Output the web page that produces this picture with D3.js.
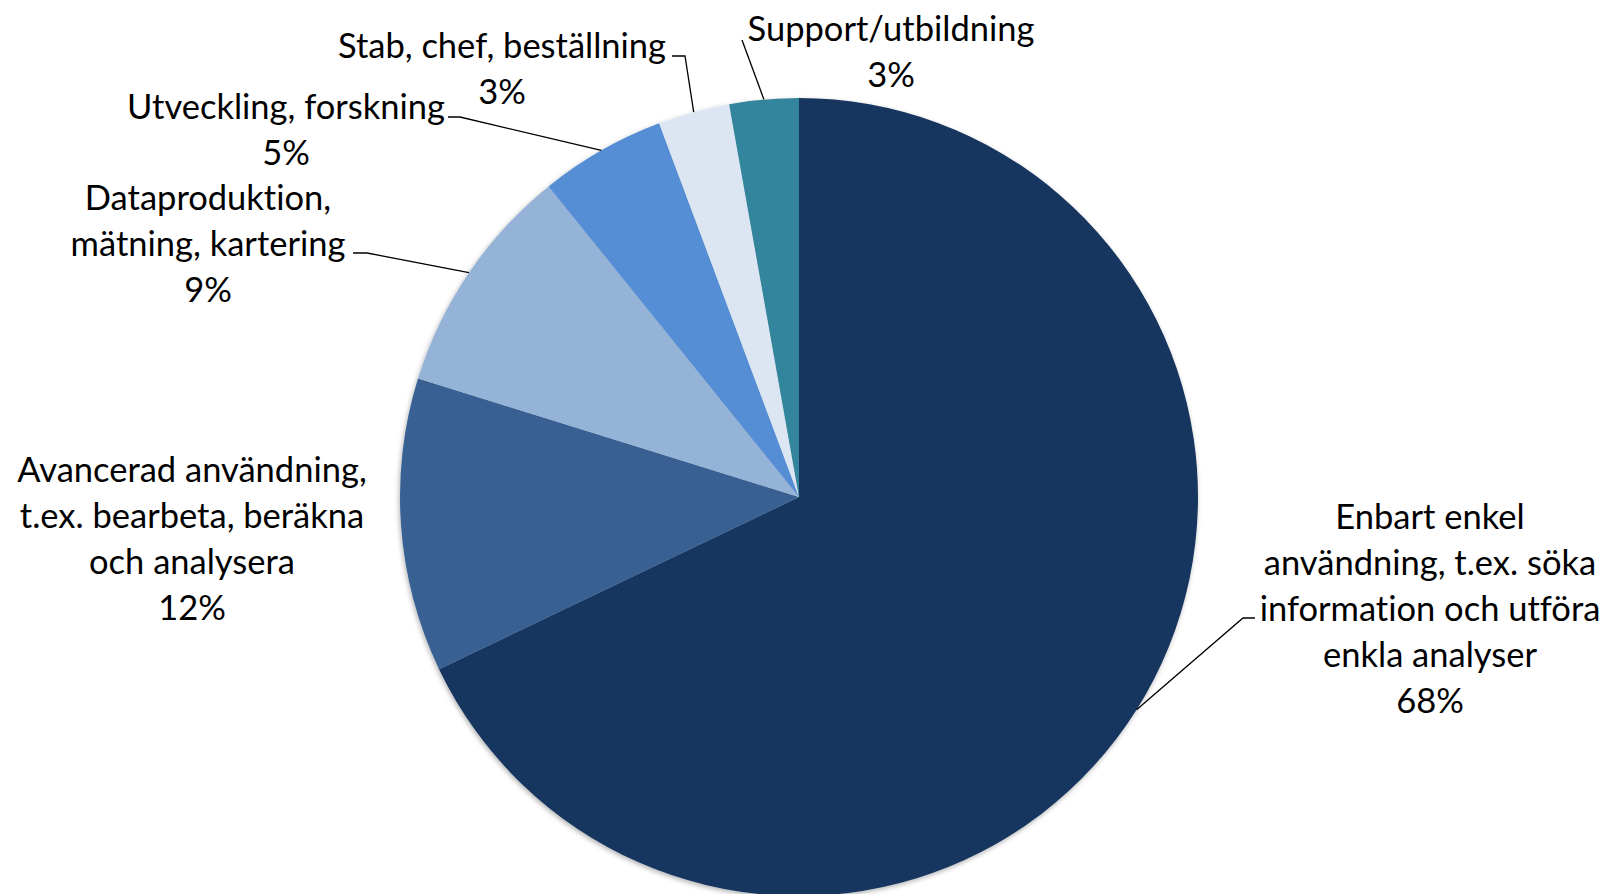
<!DOCTYPE html>
<html><head><meta charset="utf-8">
<script src="https://cdn.jsdelivr.net/npm/d3@7"></script>
<style>
body{margin:0;background:#fff}
svg{display:block}
text{font-family:Lato,"Open Sans",sans-serif;fill:#000;font-variant-ligatures:none;font-feature-settings:"liga" 0}
</style></head><body>
<svg id="c" width="1608" height="894"></svg>
<script>
// ---- data ----
const categories = [
  "Enbart enkel\nanvändning, t.ex. söka\ninformation och utföra\nenkla analyser",
  "Avancerad användning,\nt.ex. bearbeta, beräkna\noch analysera",
  "Dataproduktion,\nmätning, kartering",
  "Utveckling, forskning",
  "Stab, chef, beställning",
  "Support/utbildning"
];
const values = [67.9, 11.9, 9.4, 5.1, 2.9, 2.8];
const colors = ["#18365E", "#376092", "#95B3D7", "#558ED5", "#DCE6F2", "#31859C"];

// ---- layout (positions only) ----
const cx = 799, cy = 497, R = 399;
const fontSize = 34.5, lineH = 46;
const labelLayout = [
  {x: 1430, y: 529, knee: [1243, 618], end: [1255, 618]},
  {x: 192,  y: 482, knee: null, end: null},
  {x: 208,  y: 210, knee: [367, 253], end: [353, 253]},
  {x: 286,  y: 119, knee: [460, 117], end: [448, 117]},
  {x: 502,  y: 58,  knee: [685, 56],  end: [672, 56]},
  {x: 891,  y: 41,  knee: null, end: [742, 40]}
];

const svg = d3.select("#c");
const defs = svg.append("defs");
const f = defs.append("filter").attr("id", "sh").attr("x", "-10%").attr("y", "-10%").attr("width", "120%").attr("height", "120%");
f.append("feDropShadow").attr("dx", -1).attr("dy", 2).attr("stdDeviation", 2.5).attr("flood-color", "#000").attr("flood-opacity", 0.3);

const total = d3.sum(values);
const pie = d3.pie().sort(null).value(d => d).startAngle(0).endAngle(2 * Math.PI);
const arcs = pie(values);
const arc = d3.arc().innerRadius(0).outerRadius(R);
const edgeArc = d3.arc().innerRadius(R).outerRadius(R);

const g = svg.append("g").attr("transform", `translate(${cx},${cy})`);
g.append("g").attr("filter", "url(#sh)")
  .selectAll("path").data(arcs).join("path")
  .attr("d", arc)
  .attr("fill", (d, i) => colors[i]);

// leader lines
const lg = svg.append("g");
arcs.forEach((d, i) => {
  const L = labelLayout[i];
  if (!L.end) return;
  const [ex, ey] = edgeArc.centroid(d);
  const pts = [[cx + ex, cy + ey]];
  if (L.knee) pts.push(L.knee);
  pts.push(L.end);
  lg.append("path")
    .attr("d", d3.line()(pts))
    .attr("fill", "none")
    .attr("stroke", "#000")
    .attr("stroke-width", 1.3);
});

// labels
const tg = svg.append("g");
arcs.forEach((d, i) => {
  const L = labelLayout[i];
  const lines = categories[i].split("\n").concat([Math.round(values[i] / total * 100) + "%"]);
  const t = tg.append("text")
    .attr("text-anchor", "middle")
    .attr("font-size", fontSize);
  lines.forEach((s, k) => {
    t.append("tspan").attr("x", L.x).attr("y", L.y + k * lineH).text(s);
  });
});
</script>
</body></html>
